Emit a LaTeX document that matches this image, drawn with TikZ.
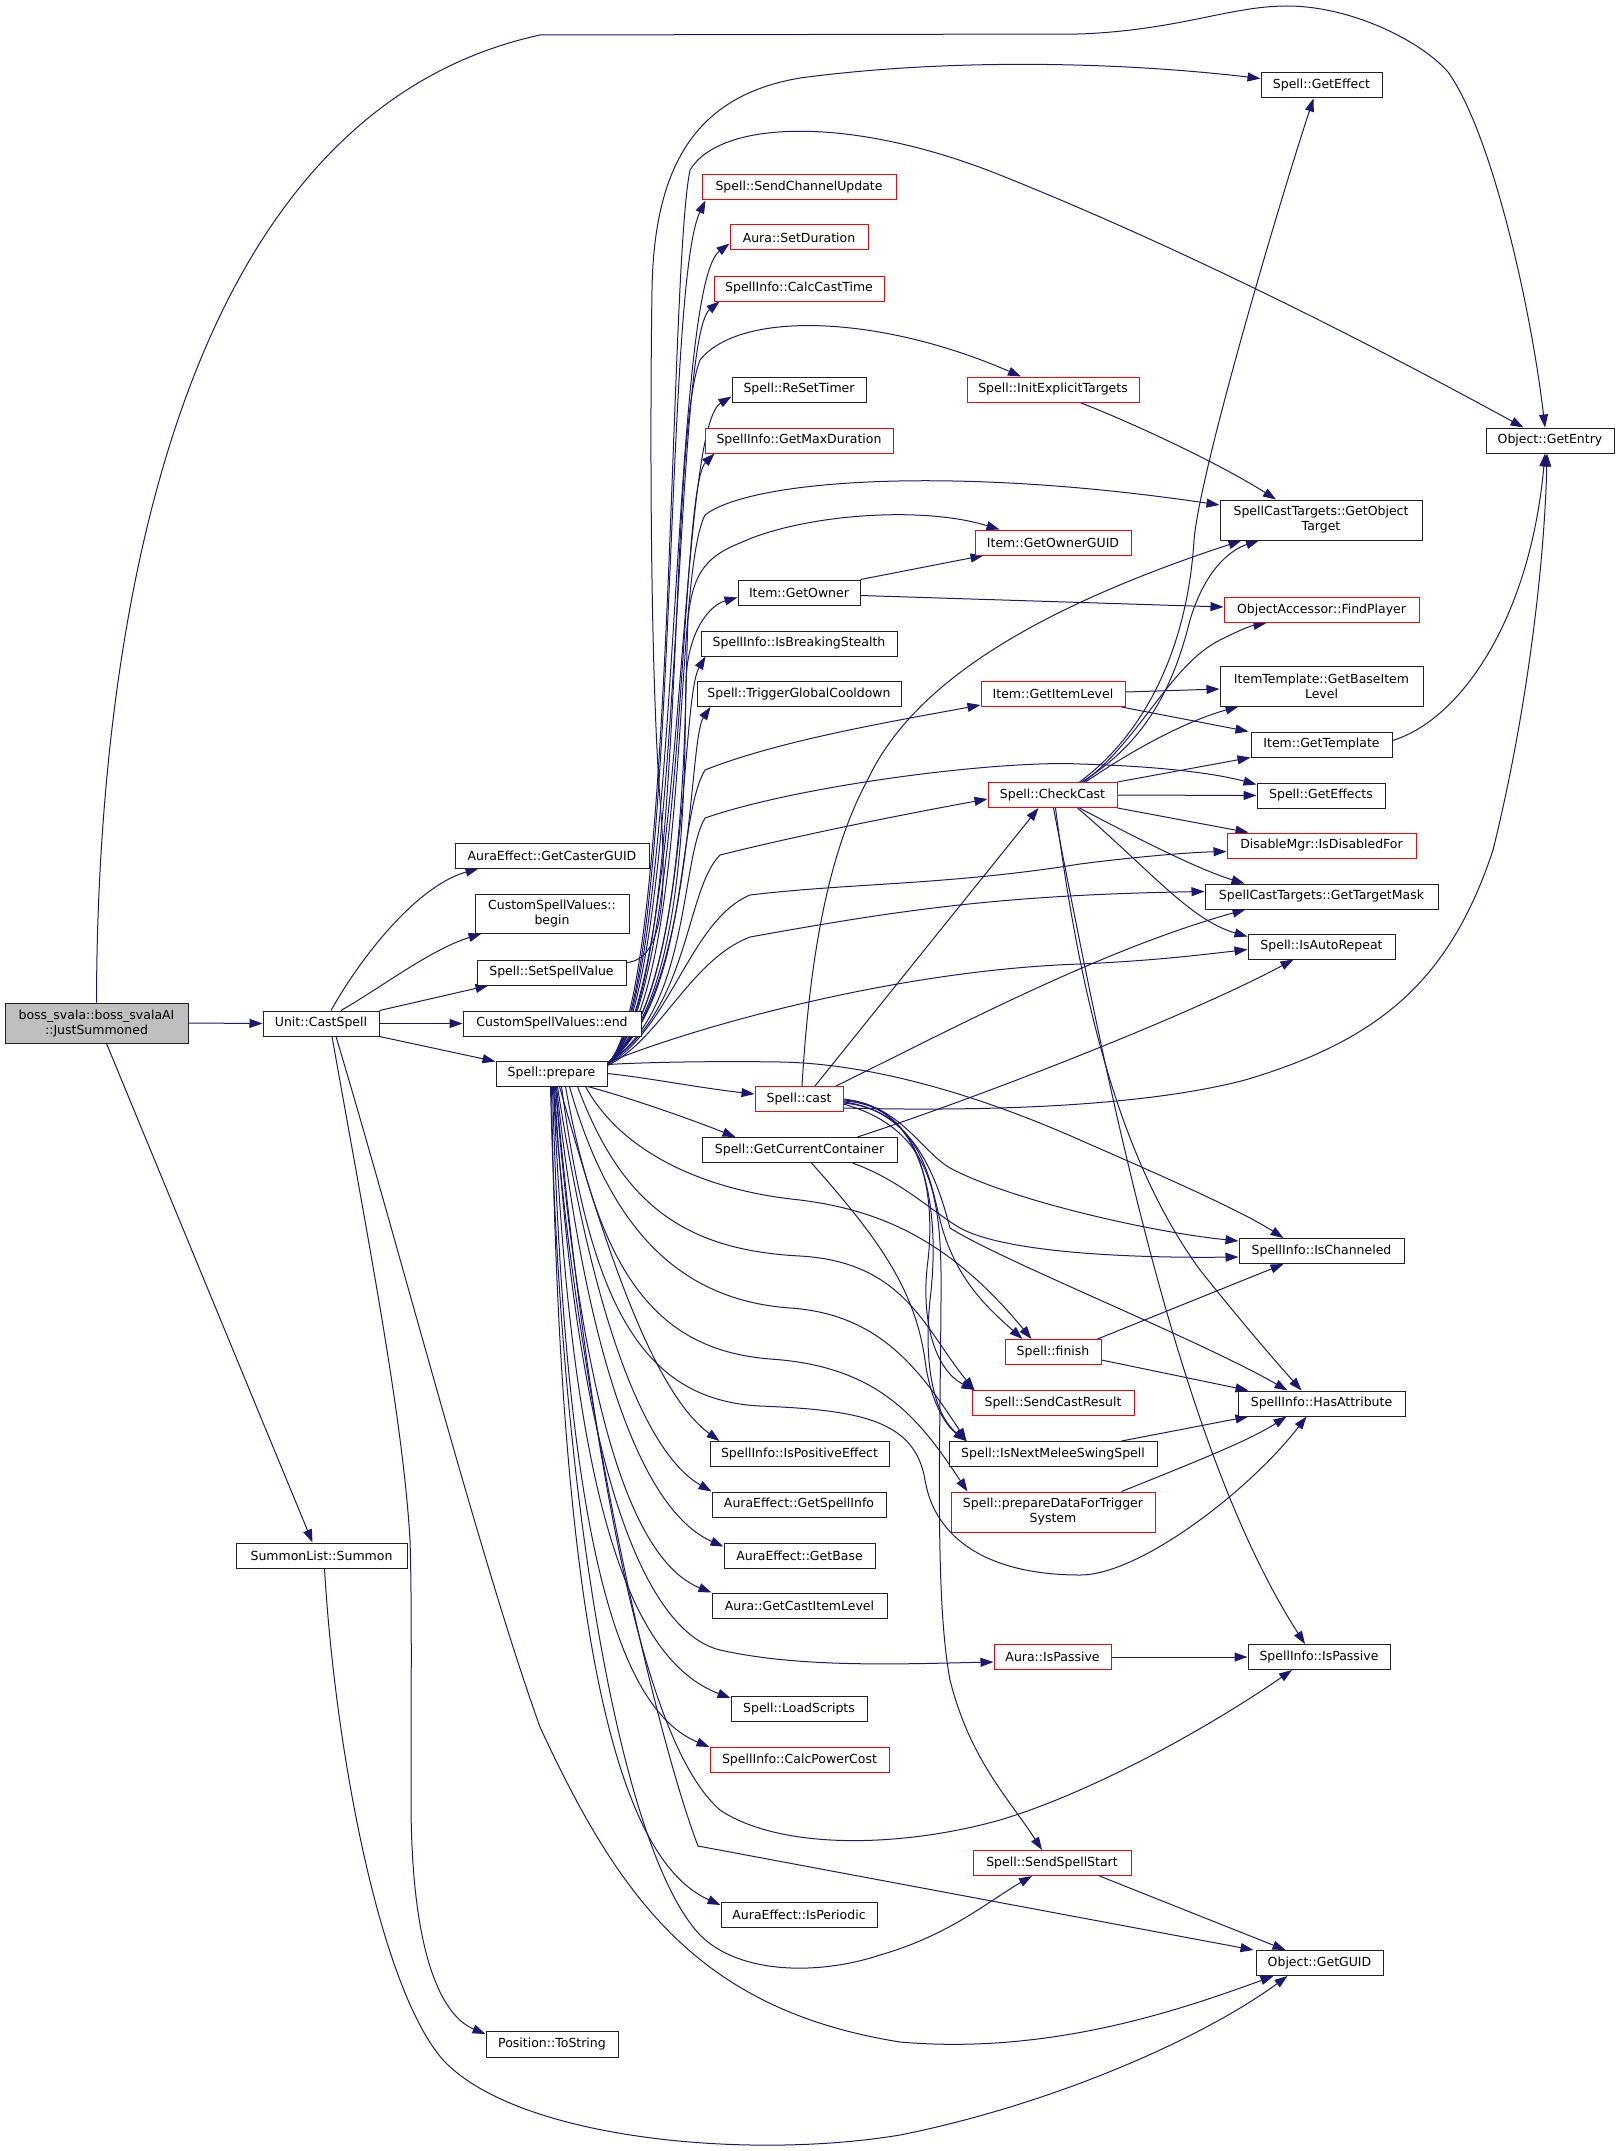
\documentclass[tikz,border=0pt]{standalone}
\usepackage{fontspec}
\setmainfont{DejaVu Sans}
\usetikzlibrary{arrows.meta}
\definecolor{edgec}{HTML}{191970}
\definecolor{bossfill}{HTML}{BFBFBF}
\definecolor{boxline}{HTML}{222222}
\newcommand\nfont{\fontsize{12.5}{15}\selectfont}
\pgfdeclarelayer{bg}
\pgfsetlayers{bg,main}
\tikzset{
  bx/.style n args={2}{draw=boxline, line width=1pt, fill=white, minimum width=#1pt, minimum height=#2pt, inner sep=0pt, align=center, font=\nfont},
  rbx/.style n args={2}{bx={#1}{#2}, draw=red},
  edg/.style={draw=edgec, line width=1pt, -{Triangle[length=13pt,width=9pt]}},
}
\begin{document}
\begin{tikzpicture}[x=1pt,y=-1pt]
\useasboundingbox (0,0) rectangle (1615,2151);
% nodes
\node[bx={183}{40}, fill=bossfill] (B) at (96.5,1023) {boss\_svala::boss\_svalaAI\\::JustSummoned};
\node[bx={116}{25}] (U) at (321,1023.5) {Unit::CastSpell};
\node[bx={194}{25}] (GCG) at (552,855.5) {AuraEffect::GetCasterGUID};
\node[bx={154}{39}] (CSVb) at (552,913.5) {CustomSpellValues::\\begin};
\node[bx={149}{25}] (SSV) at (551.5,972.5) {Spell::SetSpellValue};
\node[bx={178}{25}] (CSVe) at (552,1023.5) {CustomSpellValues::end};
\node[bx={111}{25}] (P) at (551.5,1073.5) {Spell::prepare};
\node[bx={171}{25}] (SUM) at (321.5,1555.5) {SummonList::Summon};
\node[bx={132}{26}] (PTS) at (552,2044) {Position::ToString};
\node[rbx={194}{25}] (SCU) at (799,187.5) {Spell::SendChannelUpdate};
\node[rbx={138}{25}] (ASD) at (799,237.5) {Aura::SetDuration};
\node[rbx={170}{25}] (CCT) at (799,288.5) {SpellInfo::CalcCastTime};
\node[bx={134}{25}] (RST) at (799,389.5) {Spell::ReSetTimer};
\node[rbx={188}{25}] (GMD) at (799,440.5) {SpellInfo::GetMaxDuration};
\node[rbx={172}{25}] (IET) at (1053,389.5) {Spell::InitExplicitTargets};
\node[rbx={156}{25}] (GOG) at (1053,542.5) {Item::GetOwnerGUID};
\node[bx={121}{25}] (GE) at (1321.5,85.5) {Spell::GetEffect};
\node[bx={128}{25}] (GEN) at (1550,440.5) {Object::GetEntry};
\node[bx={202}{40}] (GOT) at (1321,520) {SpellCastTargets::GetObject\\Target};
\node[bx={122}{25}] (GO) at (799,592.5) {Item::GetOwner};
\node[bx={196}{25}] (IBS) at (799,643.5) {SpellInfo::IsBreakingStealth};
\node[bx={204}{25}] (TGC) at (799,694) {Spell::TriggerGlobalCooldown};
\node[rbx={144}{25}] (GIL) at (1053,694) {Item::GetItemLevel};
\node[rbx={129}{25}] (CC) at (1052.5,795) {Spell::CheckCast};
\node[rbx={195}{25}] (FP) at (1321.5,610) {ObjectAccessor::FindPlayer};
\node[bx={203}{40}] (GBIL) at (1321.5,686) {ItemTemplate::GetBaseItem\\Level};
\node[bx={141}{25}] (GT) at (1321.5,744.5) {Item::GetTemplate};
\node[bx={128}{25}] (GEs) at (1321,795.5) {Spell::GetEffects};
\node[rbx={189}{25}] (IDF) at (1321.5,845.5) {DisableMgr::IsDisabledFor};
\node[bx={233}{25}] (GTM) at (1321.5,896.5) {SpellCastTargets::GetTargetMask};
\node[bx={147}{25}] (IAR) at (1321.5,946.5) {Spell::IsAutoRepeat};
\node[rbx={88}{25}] (CAST) at (799,1099) {Spell::cast};
\node[bx={195}{25}] (GCC) at (799.5,1150) {Spell::GetCurrentContainer};
\node[rbx={96}{25}] (FIN) at (1053,1352) {Spell::finish};
\node[rbx={162}{25}] (SCR) at (1053,1403) {Spell::SendCastResult};
\node[bx={208}{25}] (INM) at (1053,1454) {Spell::IsNextMeleeSwingSpell};
\node[rbx={204}{40}] (PDT) at (1053,1512) {Spell::prepareDataForTrigger\\System};
\node[bx={179}{25}] (IPE) at (799.5,1454) {SpellInfo::IsPositiveEffect};
\node[bx={174}{25}] (AGSI) at (799,1504.5) {AuraEffect::GetSpellInfo};
\node[bx={151}{25}] (AGB) at (799.5,1555.5) {AuraEffect::GetBase};
\node[bx={175}{25}] (AGCIL) at (799.5,1605.5) {Aura::GetCastItemLevel};
\node[bx={165}{25}] (ICH) at (1321.5,1251) {SpellInfo::IsChanneled};
\node[bx={167}{25}] (HA) at (1321.5,1403.5) {SpellInfo::HasAttribute};
\node[rbx={117}{25}] (AIP) at (1052.5,1657) {Aura::IsPassive};
\node[bx={136}{25}] (LS) at (799,1709) {Spell::LoadScripts};
\node[rbx={179}{25}] (CPC) at (799.5,1760) {SpellInfo::CalcPowerCost};
\node[rbx={158}{25}] (SSS) at (1052,1863) {Spell::SendSpellStart};
\node[bx={156}{25}] (AIPer) at (799,1915) {AuraEffect::IsPeriodic};
\node[bx={142}{25}] (SIP) at (1319,1657) {SpellInfo::IsPassive};
\node[bx={127}{25}] (GG) at (1319.5,1963) {Object::GetGUID};

\begin{pgfonlayer}{bg}
% boss
\draw[edg] (B.east) -- (U.west);
\draw[edg] (B.north) .. controls (97,700) and (150,120) .. (540,35) -- (1080,34) .. controls (1180,30) and (1230,6) .. (1287,6) .. controls (1350,6) and (1420,40) .. (1448,72) .. controls (1490,130) and (1530,300) .. ([xshift=-5pt]GEN.north);
\draw[edg] ([xshift=10pt]B.south) -- ([xshift=-9pt]SUM.north);
% Unit::CastSpell
\draw[edg] ([xshift=10pt]U.north) .. controls (365,950) and (420,885) .. ([xshift=24pt]GCG.south west);
\draw[edg] ([xshift=20pt]U.north) .. controls (385,985) and (430,950) .. ([xshift=7pt]CSVb.south west);
\draw[edg] (U.north east) -- ([xshift=12pt]SSV.south west);
\draw[edg] (U.east) -- (CSVe.west);
\draw[edg] (U.south east) -- (P);
\draw[edg] ([xshift=11pt]U.south) .. controls (370,1250) and (403,1420) .. (410,1540) .. controls (412,1600) and (411,1700) .. (411,1800) .. controls (411,1950) and (440,2015) .. ([yshift=10pt]PTS.west);
\draw[edg] ([xshift=15pt]U.south) .. controls (400,1250) and (480,1560) .. (540,1727) .. controls (620,1900) and (700,2010) .. (900,2042) .. controls (1050,2055) and (1180,2010) .. ([xshift=18pt]GG.south west);
\draw[edg] ([xshift=3pt]SUM.south) .. controls (335,1750) and (380,1990) .. (444,2061) .. controls (520,2140) and (750,2160) .. (900,2135) .. controls (1050,2105) and (1200,2040) .. ([xshift=32pt]GG.south west);
% SetSpellValue
\draw[edg] ([yshift=10pt]SSV.east) .. controls (662,960) and (668,900) .. (660,800) .. controls (650,660) and (650,420) .. (652,290) .. controls (654,160) and (700,95) .. (800,78) .. controls (950,58) and (1120,62) .. ([yshift=7pt]GE.west);
% prepare -> upper
\draw[edg] ([yshift=10pt]P.east) .. controls (675,1000) and (668,280) .. (690,170) .. controls (720,120) and (850,115) .. (1000,175) .. controls (1200,255) and (1400,360) .. ([xshift=38pt]GEN.north west);
\draw[edg] ([yshift=10pt]P.east) .. controls (680,1000) and (662,290) .. ([xshift=4pt]SCU.south west);
\draw[edg] ([yshift=10pt]P.east) .. controls (682,1000) and (668,290) .. ([yshift=-6pt]ASD.west);
\draw[edg] ([yshift=10pt]P.east) .. controls (684,1000) and (672,340) .. ([xshift=6pt]CCT.south west);
\draw[edg] ([yshift=10pt]P.east) .. controls (690,1000) and (665,450) .. (700,360) .. controls (740,310) and (880,315) .. ([xshift=-32pt]IET.north);
\draw[edg] ([yshift=10pt]P.east) .. controls (686,1000) and (676,430) .. ([yshift=-7pt]RST.west);
\draw[edg] ([yshift=10pt]P.east) .. controls (688,1000) and (678,490) .. ([xshift=10pt]GMD.south west);
\draw[edg] ([yshift=10pt]P.east) .. controls (692,1000) and (672,580) .. (705,515) .. controls (750,480) and (950,465) .. ([yshift=15pt]GOT.west);
\draw[edg] ([yshift=10pt]P.east) .. controls (690,1000) and (684,700) .. (688,620) .. controls (692,570) and (710,555) .. (740,543) .. controls (800,515) and (920,505) .. ([xshift=25pt]GOG.north west);
\draw[edg] ([yshift=10pt]P.east) .. controls (690,1000) and (684,760) .. (686,680) .. controls (688,630) and (710,605) .. ([yshift=-5pt]GO.west);
\draw[edg] ([yshift=10pt]P.east) .. controls (690,1000) and (680,700) .. ([xshift=5pt]IBS.south west);
\draw[edg] ([yshift=10pt]P.east) .. controls (694,1000) and (688,740) .. ([xshift=14pt]TGC.south west);
\draw[edg] ([yshift=10pt]P.east) .. controls (690,1000) and (675,820) .. (705,770) .. controls (780,740) and (900,720) .. ([yshift=2pt]GIL.south west);
\draw[edg] ([yshift=10pt]P.east) .. controls (690,1010) and (680,860) .. (705,818) .. controls (800,785) and (1000,760) .. (1080,764) .. controls (1150,766) and (1210,772) .. ([yshift=-2pt]GEs.north west);
\draw[edg] ([yshift=10pt]P.east) .. controls (690,1010) and (685,890) .. (720,855) .. controls (800,835) and (900,815) .. ([yshift=-4pt]CC.west);
\draw[edg] ([yshift=9pt]P.east) .. controls (670,1030) and (690,920) .. (750,895) .. controls (850,883) and (950,885) .. (1080,864) .. controls (1150,855) and (1200,852) .. ([yshift=-6pt]IDF.west);
\draw[edg] ([yshift=8pt]P.east) .. controls (660,1040) and (690,960) .. (750,937) .. controls (900,910) and (1000,895) .. ([yshift=5pt]GTM.west);
\draw[edg] ([yshift=11pt]P.east) .. controls (700,1025) and (900,970) .. (1080,964) .. controls (1150,961) and (1200,955) .. ([yshift=-3pt]IAR.west);
\draw[edg] ([yshift=9pt]P.east) .. controls (650,1062) and (720,1061) .. (781,1062) .. controls (880,1064) and (990,1100) .. (1080,1140) .. controls (1160,1175) and (1240,1210) .. ([xshift=-38pt]ICH.north);
% prepare -> middle
\draw[edg] (P.east) .. controls (650,1078) and (700,1088) .. ([yshift=5pt]CAST.west);
\draw[edg] ([xshift=-20pt]P.south east) .. controls (620,1095) and (680,1115) .. ([xshift=34pt]GCC.north west);
\draw[edg] ([xshift=-22pt]P.south east) .. controls (620,1150) and (700,1190) .. (800,1200) .. controls (880,1210) and (950,1240) .. ([xshift=27pt]FIN.north west);
\draw[edg] ([xshift=-30pt]P.south east) .. controls (620,1200) and (680,1250) .. (800,1256) .. controls (905,1262) and (925,1330) .. ([xshift=3pt]SCR.north west);
\draw[edg] ([xshift=-38pt]P.south east) .. controls (610,1230) and (680,1300) .. (790,1308) .. controls (880,1314) and (920,1370) .. ([xshift=18pt]INM.north west);
\draw[edg] ([xshift=-42pt]P.south east) .. controls (600,1280) and (660,1350) .. (770,1359) .. controls (880,1366) and (920,1420) .. ([xshift=17pt]PDT.north west);
\draw[edg] ([xshift=-46pt]P.south east) .. controls (590,1300) and (640,1400) .. (760,1406) .. controls (860,1410) and (915,1420) .. (925,1480) .. controls (935,1540) and (990,1575) .. (1080,1575) .. controls (1140,1575) and (1250,1490) .. ([xshift=-15pt]HA.south);
% prepare -> lower
\draw[edg] ([xshift=8pt]P.south) .. controls (600,1230) and (650,1390) .. ([xshift=10pt]IPE.north west);
\draw[edg] ([xshift=6pt]P.south) .. controls (590,1300) and (640,1450) .. (AGSI.north west);
\draw[edg] ([xshift=5pt]P.south) .. controls (585,1350) and (640,1510) .. ([yshift=-4pt]AGB.north west);
\draw[edg] ([xshift=4pt]P.south) .. controls (580,1400) and (630,1560) .. (AGCIL.north west);
\draw[edg] ([xshift=3pt]P.south) .. controls (575,1450) and (640,1630) .. (720,1650) .. controls (800,1668) and (900,1664) .. ([yshift=-5pt]AIP.west);
\draw[edg] ([xshift=2pt]P.south) .. controls (570,1500) and (630,1660) .. ([yshift=-2pt]LS.north west);
\draw[edg] ([xshift=1pt]P.south) .. controls (565,1550) and (620,1710) .. (CPC.north west);
\draw[edg] ([xshift=4pt]P.south) .. controls (590,1450) and (640,1740) .. (720,1810) .. controls (780,1850) and (900,1848) .. (1000,1820) .. controls (1100,1790) and (1220,1720) .. ([xshift=-27pt]SIP.south);
\draw[edg] ([xshift=-1pt]P.south) .. controls (560,1500) and (620,1850) .. (700,1935) .. controls (740,1975) and (820,1975) .. (880,1955) .. controls (950,1935) and (990,1900) .. ([xshift=-20pt]SSS.south);
\draw[edg] (P.south) .. controls (560,1650) and (620,1860) .. ([yshift=-3pt]AIPer.north west);
\draw[edg] ([xshift=2pt]P.south) .. controls (570,1350) and (650,1720) .. (698,1846) -- ([xshift=-2pt]GG.north west);
% GetCurrentContainer
\draw[edg] ([xshift=-45pt]GCC.south east) .. controls (900,1180) and (930,1210) .. (960,1228) .. controls (1010,1255) and (1150,1258) .. ([yshift=-6pt]ICH.west);
\draw[edg] ([xshift=12pt]GCC.south) .. controls (880,1240) and (915,1290) .. (925,1360) .. controls (930,1400) and (945,1425) .. ([xshift=18pt]INM.north west);
\draw[edg] ([xshift=58pt]GCC.north) .. controls (1000,1090) and (1200,1010) .. ([xshift=-28pt]IAR.south);
% Spell::cast
\draw[edg] (CAST.east) .. controls (900,1105) and (920,1150) .. (950,1168) .. controls (1010,1200) and (1150,1232) .. ([yshift=10pt]ICH.west);
\draw[edg] ([yshift=-4pt]CAST.east) .. controls (920,1110) and (930,1180) .. (940,1220) .. controls (955,1280) and (990,1310) .. ([xshift=18pt]FIN.north west);
\draw[edg] ([yshift=-2pt]CAST.east) .. controls (925,1105) and (935,1200) .. (928,1260) .. controls (920,1320) and (935,1370) .. ([xshift=3pt]SCR.north west);
\draw[edg] ([yshift=-1pt]CAST.east) .. controls (930,1105) and (940,1220) .. (930,1300) .. controls (922,1380) and (940,1420) .. ([xshift=18pt]INM.north west);
\draw[edg] ([yshift=-3pt]CAST.east) .. controls (910,1110) and (935,1170) .. (950,1228) .. controls (1000,1260) and (1200,1340) .. ([xshift=-34pt]HA.north);
\draw[edg] ([yshift=-5pt]CAST.east) .. controls (935,1130) and (942,1200) .. (941,1300) .. controls (940,1450) and (935,1600) .. (950,1680) .. controls (970,1760) and (1010,1800) .. ([xshift=-10pt]SSS.north);
\draw[edg] ([xshift=16pt]CAST.north) -- ([xshift=-14pt]CC.south);
\draw[edg] ([xshift=3pt]CAST.north) .. controls (810,950) and (830,850) .. (867,781) .. controls (905,700) and (1000,620) .. ([xshift=22pt]GOT.south west);
\draw[edg] ([xshift=37pt]CAST.north) .. controls (950,1030) and (1100,950) .. ([xshift=-76pt]GTM.south);
\draw[edg] ([yshift=-9pt]CAST.east) .. controls (1000,1112) and (1150,1105) .. (1245,1080) .. controls (1380,1040) and (1450,980) .. (1493,850) .. controls (1530,700) and (1545,550) .. ([xshift=-3pt]GEN.south);
% CheckCast
\draw[edg] ([xshift=27pt]CC.north) .. controls (1150,730) and (1188,640) .. (1194,540) .. controls (1200,470) and (1280,200) .. ([xshift=-8pt]GE.south);
\draw[edg] ([xshift=29pt]CC.north) .. controls (1150,740) and (1175,680) .. (1190,620) .. controls (1205,570) and (1230,550) .. ([xshift=-62pt]GOT.south);
\draw[edg] ([xshift=31pt]CC.north) .. controls (1140,740) and (1170,665) .. (1220,640) .. controls (1240,630) and (1250,626) .. ([xshift=-55pt]FP.south);
\draw[edg] ([xshift=33pt]CC.north) .. controls (1140,745) and (1190,720) .. ([xshift=-83pt]GBIL.south);
\draw[edg] (CC.north east) -- (GT.south west);
\draw[edg] (CC.east) -- (GEs.west);
\draw[edg] (CC.south east) -- ([xshift=22pt]IDF.north west);
\draw[edg] ([xshift=27pt]CC.south) .. controls (1140,840) and (1200,870) .. ([xshift=-77pt]GTM.north);
\draw[edg] ([xshift=25pt]CC.south) .. controls (1150,870) and (1190,920) .. ([yshift=10pt]IAR.west);
\draw[edg] ([xshift=3pt]CC.south) .. controls (1080,1000) and (1120,1160) .. (1200,1270) .. controls (1240,1320) and (1270,1355) .. ([xshift=-20pt]HA.north);
\draw[edg] ([xshift=1pt]CC.south) .. controls (1110,1100) and (1180,1450) .. ([xshift=-14pt]SIP.north);
% others
\draw[edg] ([yshift=4pt]GT.east) .. controls (1460,720) and (1530,620) .. ([xshift=-5pt]GEN.south);
\draw[edg] ([xshift=27pt]IET.south) .. controls (1150,430) and (1230,470) .. ([xshift=-45pt]GOT.north);
\draw[edg] (GO.north east) -- ([xshift=9pt]GOG.south west);
\draw[edg] ([yshift=-3pt]GO.east) -- ([yshift=3pt]FP.west);
\draw[edg] ([yshift=2pt]GIL.east) -- ([yshift=-3pt]GBIL.west);
\draw[edg] ([xshift=-4pt]GIL.south east) -- ([xshift=-2pt]GT.north west);
\draw[edg] ([xshift=-4pt]FIN.north east) -- ([xshift=-38pt]ICH.south);
\draw[edg] ([yshift=-8pt]FIN.east) -- ([xshift=11pt]HA.north west);
\draw[edg] ([xshift=-36pt]INM.north east) -- ([xshift=11pt]HA.south west);
\draw[edg] ([xshift=-34pt]PDT.north east) .. controls (1200,1460) and (1250,1440) .. ([xshift=-35pt]HA.south);
\draw[edg] (AIP.east) -- (SIP.west);
\draw[edg] ([xshift=-32pt]SSS.south east) -- ([xshift=-34pt]GG.north);
\end{pgfonlayer}
\end{tikzpicture}
\end{document}
